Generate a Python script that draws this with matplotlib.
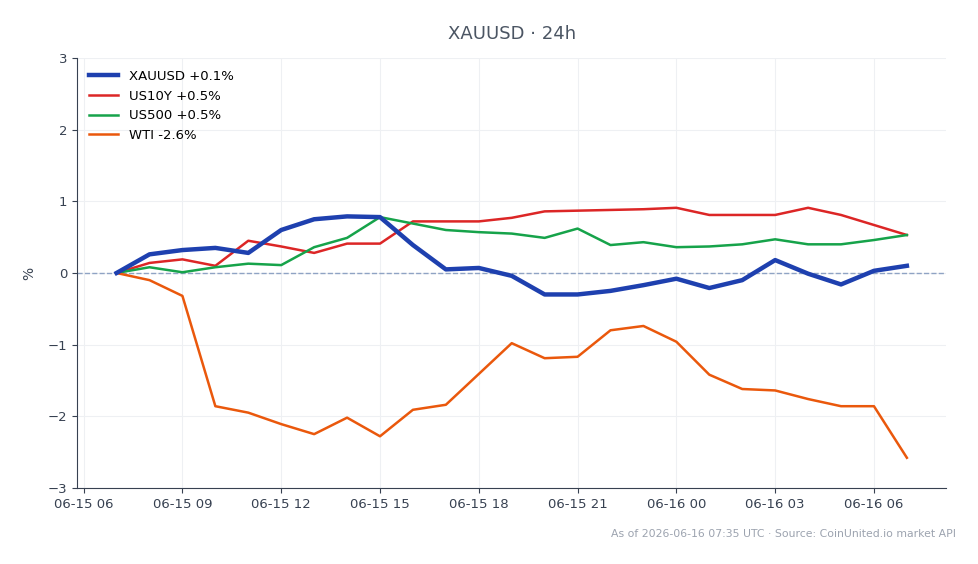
# XAUUSD 24h comparison chart

import pandas as pd
import matplotlib.pyplot as plt
import matplotlib.dates as mdates

# Hourly timestamps, 06-15 07:00 to 06-16 07:00 UTC
times = pd.date_range('2026-06-15 07:00', '2026-06-16 07:00', freq='h')

# % change since start of window
xauusd = [0, 0.26, 0.32, 0.35, 0.28, 0.60, 0.75, 0.79, 0.78, 0.39, 0.05, 0.07, -0.04,
          -0.30, -0.30, -0.25, -0.17, -0.08, -0.21, -0.10, 0.18, -0.01, -0.16, 0.03, 0.10]
us10y = [0, 0.14, 0.19, 0.10, 0.45, 0.37, 0.28, 0.41, 0.41, 0.72, 0.72, 0.72, 0.77,
         0.86, 0.87, 0.88, 0.89, 0.91, 0.81, 0.81, 0.81, 0.91, 0.81, 0.67, 0.53]
us500 = [0, 0.08, 0.01, 0.08, 0.13, 0.11, 0.36, 0.49, 0.78, 0.69, 0.60, 0.57, 0.55,
         0.49, 0.62, 0.39, 0.43, 0.36, 0.37, 0.40, 0.47, 0.40, 0.40, 0.46, 0.53]
wti = [0, -0.10, -0.32, -1.86, -1.95, -2.11, -2.25, -2.02, -2.28, -1.91, -1.84, -1.41, -0.98,
       -1.19, -1.17, -0.80, -0.74, -0.96, -1.42, -1.62, -1.64, -1.76, -1.86, -1.86, -2.58]

fig = plt.figure(figsize=(9.79, 5.64), dpi=100)
ax = fig.add_axes([0.0787, 0.135, 0.888, 0.762])

ax.plot(times, xauusd, color='#1e40af', linewidth=3.2, label='XAUUSD +0.1%', zorder=5)
ax.plot(times, us10y, color='#dc2626', linewidth=1.8, label='US10Y +0.5%')
ax.plot(times, us500, color='#16a34a', linewidth=1.8, label='US500 +0.5%')
ax.plot(times, wti, color='#ea580c', linewidth=1.8, label='WTI -2.6%')

ax.axhline(0, color='#8fa3c4', linewidth=1, linestyle='--', zorder=1)

# Customize plot
ax.set_title('XAUUSD · 24h', color='#4b5563', fontsize=13, pad=14)
ax.set_ylabel('%', color='#374151', fontsize=10, labelpad=8)
ax.set_ylim(-3, 3)
ax.set_yticks([-3, -2, -1, 0, 1, 2, 3])
ax.xaxis.set_major_locator(mdates.HourLocator(byhour=range(0, 24, 3)))
ax.xaxis.set_major_formatter(mdates.DateFormatter('%m-%d %H'))
ax.grid(True, color='#eef0f3', linewidth=0.8)
ax.set_axisbelow(True)
for side in ['top', 'right']:
    ax.spines[side].set_visible(False)
for side in ['left', 'bottom']:
    ax.spines[side].set_color('#374151')
ax.tick_params(colors='#374151', labelsize=9.5)

ax.legend(loc='upper left', frameon=False, fontsize=9.5, handlelength=2.2)

fig.text(0.976, 0.045, 'As of 2026-06-16 07:35 UTC · Source: CoinUnited.io market API',
         ha='right', va='bottom', color='#9ca3af', fontsize=7.8)

plt.savefig('out.png', dpi=100)
